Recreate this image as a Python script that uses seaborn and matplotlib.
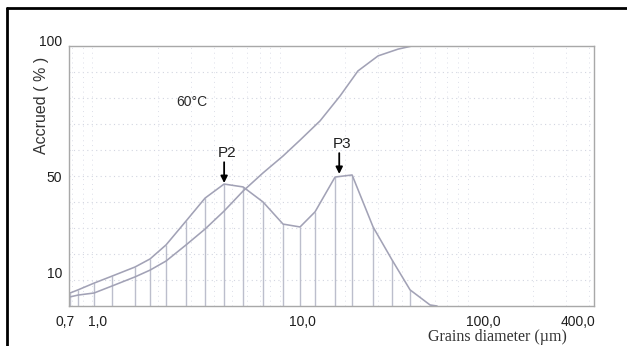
import numpy as np
import pandas as pd
import matplotlib
matplotlib.use("Agg")
import matplotlib.pyplot as plt
from matplotlib.lines import Line2D
from matplotlib.transforms import ScaledTranslation
import seaborn as sns

# ---- data ----
freq_diam = [0.684, 0.754, 0.918, 1.145, 1.518, 1.825, 2.221, 2.84, 3.585, 4.526,
             5.713, 7.304, 9.336, 11.5, 13.82, 17.67, 21.78, 28.18, 35.58, 44.37,
             56.7, 61.8]
freq_val = [5.0, 6.2, 8.8, 11.5, 15.0, 18.1, 23.5, 32.7, 41.5, 46.9,
            45.8, 40.0, 31.5, 30.4, 36.2, 49.6, 50.4, 30.4, 17.7, 6.2,
            0.4, 0.0]
cum_diam = [0.684, 0.754, 0.918, 1.145, 1.518, 1.825, 2.221, 2.84, 3.585, 4.526,
            5.713, 7.304, 9.336, 11.5, 14.7, 18.8, 23.4, 29.96, 38.3, 45.5, 60.0]
cum_val = [3.5, 4.2, 5.0, 7.7, 11.2, 13.8, 17.3, 23.5, 29.6, 36.5,
           44.2, 51.2, 57.7, 63.8, 71.2, 80.8, 90.4, 96.2, 98.8, 100.0, 100.0]

x_ticks = [0.7, 1.0, 10.0, 100.0, 400.0]
x_tick_labels = ["0,7", "1,0", "10,0", "100,0", "400,0"]
y_ticks = [10, 50, 100]
y_tick_labels = ["10", "50", "100"]
grid_levels = [10, 20, 30, 40, 50, 60, 70, 80, 90]

peak_labels = ["P2", "P3"]
peak_diam = [4.53, 18.6]
peak_val = [47.3, 50.8]

# ---- plotting ----
sns.set_theme(style="white")
plt.rcParams["font.family"] = ["Liberation Sans", "DejaVu Sans"]

fig = plt.figure(figsize=(6.27, 3.46), dpi=100)
ax = fig.add_axes([69 / 627, 40 / 346, 525 / 627, 260 / 346])
ax.set_xscale("log")
ax.set_xlim(0.675, 424)
ax.set_ylim(0, 100)

line_col = "#a2a2b6"
drop_col = "#bcbecc"

# faint dotted grid
for g in grid_levels:
    ax.axhline(g, color="#d2d5e0", lw=0.8, ls=(0, (1, 3)), zorder=0)
minor_pos = [m * 10.0 ** d for d in range(-1, 3) for m in range(2, 10)]
for mp in minor_pos:
    if 0.675 < mp < 424:
        ax.axvline(mp, color="#dcdee8", lw=0.7, ls=(0, (1, 4)), zorder=0)

# drop lines under the frequency curve
ax.vlines(freq_diam, 0, freq_val, color=drop_col, lw=1.0, zorder=1)

df_f = pd.DataFrame({"d": freq_diam, "v": freq_val})
df_c = pd.DataFrame({"d": cum_diam, "v": cum_val})
sns.lineplot(data=df_f, x="d", y="v", ax=ax, color=line_col, lw=1.15, sort=False, zorder=2)
sns.lineplot(data=df_c, x="d", y="v", ax=ax, color=line_col, lw=1.15, sort=False, zorder=2)

# ticks
ax.set_xticks(x_ticks)
ax.set_xticklabels(x_tick_labels)
ax.xaxis.set_minor_formatter(matplotlib.ticker.NullFormatter())
ax.set_yticks(y_ticks)
ax.set_yticklabels(y_tick_labels)
ax.tick_params(axis="both", which="both", length=0, labelsize=10, colors="#1e1e1e")
ax.tick_params(axis="x", pad=6.5)
ax.tick_params(axis="y", pad=5)

for sp in ax.spines.values():
    sp.set_color("#a8a8a8")
    sp.set_linewidth(1.0)

ax.set_xlabel("Grains diameter (µm)", fontsize=11.5, family=["Liberation Serif", "DejaVu Serif"],
              color="#333333")
ax.xaxis.set_label_coords((497 - 69) / 525, (306 - 329) / 260)
ax.set_ylabel("Accrued ( % )", fontsize=11.5, color="#333333")
ax.yaxis.set_label_coords((49 - 69) / 525, (306 - 105) / 260)

# annotations
ax.text(3.05, 78.5, "60°C", fontsize=10, ha="center", va="center", color="#2a2a2a")
for lab, px, pv in zip(peak_labels, peak_diam, peak_val):
    ax.annotate("", xy=(px, pv), xytext=(px, pv + 8),
                arrowprops=dict(arrowstyle="-|>", color="black", lw=1.3, mutation_scale=10,
                                shrinkA=0, shrinkB=0), zorder=5)
    ax.text(px * 1.04, pv + 11.5, lab, fontsize=11, ha="center", va="center", color="#1e1e1e")

# tick label nudges (scan offsets in the original)
x_nudge = [-7, -3, 14, 7, -11]
y_nudge = [7, 0, 6]
for lbl, dx in zip(ax.get_xticklabels(), x_nudge):
    lbl.set_transform(lbl.get_transform() + ScaledTranslation(dx / 100, 0, fig.dpi_scale_trans))
for lbl, dy in zip(ax.get_yticklabels(), y_nudge):
    lbl.set_transform(lbl.get_transform() + ScaledTranslation(0, dy / 100, fig.dpi_scale_trans))

# outer black frame (left and top edges visible)
fig.add_artist(Line2D([7 / 627, 7 / 627], [0, 1 - 8 / 346], transform=fig.transFigure,
                      color="black", lw=2))
fig.add_artist(Line2D([7 / 627, 1], [1 - 8 / 346, 1 - 8 / 346], transform=fig.transFigure,
                      color="black", lw=2))

fig.savefig("out.png", dpi=100)
